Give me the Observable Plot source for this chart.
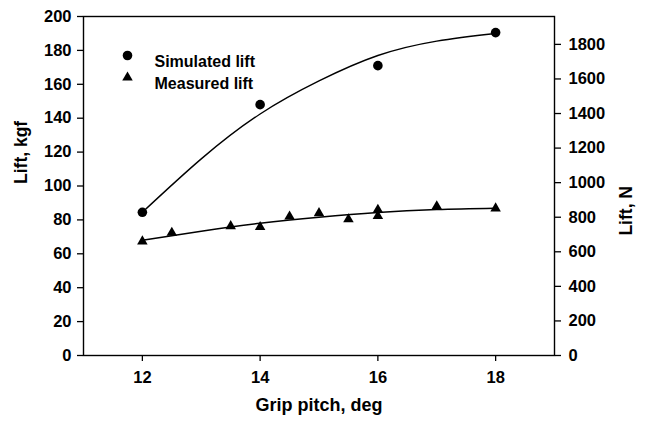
<!DOCTYPE html>
<html>
<head>
<meta charset="utf-8">
<script src="https://cdn.jsdelivr.net/npm/d3@7"></script>
<script src="https://cdn.jsdelivr.net/npm/@observablehq/plot@0.6"></script>
<style>
  html, body { margin: 0; padding: 0; background: #fff; }
  #chart svg { display: block; }
</style>
</head>
<body>
<div id="chart"></div>
<script>
// Simulated lift (kgf)
const simPitch = [12, 14, 16, 18];
const simLift = [84.5, 148, 171, 190.5];
// Measured lift (kgf)
const measPitch = [12, 12.5, 13.5, 14, 14.5, 15, 15.5, 16, 16, 17, 18];
const measLift = [67.3, 72.4, 76.3, 75.8, 82, 84, 80.4, 86, 82.3, 88, 86.8];
// Fitted curves
const fitPitch = [12, 13, 14, 15, 16, 17, 18];
const simFit = [84.5, 116, 142.5, 162, 177, 185.5, 190];
const measFit = [68, 73.3, 78, 81.6, 84.4, 86.1, 86.9];
// Axis ticks
const xTicks = [12, 14, 16, 18];
const yTicksKgf = [0, 20, 40, 60, 80, 100, 120, 140, 160, 180, 200];
const yTicksN = [0, 200, 400, 600, 800, 1000, 1200, 1400, 1600, 1800];
const KGF_TO_N = 9.80665;
const legendLabels = ["Simulated lift", "Measured lift"];
const legendSymbols = ["circle", "triangle"];

const sim = simPitch.map((x, i) => ({x, y: simLift[i]}));
const meas = measPitch.map((x, i) => ({x, y: measLift[i]}));
const simCurve = fitPitch.map((x, i) => ({x, y: simFit[i]}));
const measCurve = fitPitch.map((x, i) => ({x, y: measFit[i]}));
const legend = legendLabels.map((label, i) => ({label, symbol: legendSymbols[i], i}));

const font = "'Liberation Sans', Arial, sans-serif";
const tickFont = 16.5;

const chart = Plot.plot({
  width: 647,
  height: 423,
  marginLeft: 83,
  marginRight: 93,
  marginTop: 16,
  marginBottom: 68,
  style: {fontFamily: font, fontSize: "16px", fontWeight: "bold", color: "#000", background: "#fff"},
  x: {domain: [11, 19]},
  y: {domain: [0, 200]},
  marks: [
    Plot.frame({stroke: "#000", strokeWidth: 1.4}),
    Plot.axisX({ticks: xTicks, tickSize: 6, tickPadding: 10, label: null, fontSize: tickFont, fontWeight: "bold", strokeWidth: 1.3}),
    Plot.axisY({anchor: "left", ticks: yTicksKgf, tickSize: 6, tickPadding: 6, label: null, fontSize: tickFont, fontWeight: "bold", strokeWidth: 1.3}),
    Plot.axisY({anchor: "right", ticks: yTicksN.map(n => n / KGF_TO_N), tickFormat: v => String(Math.round(v * KGF_TO_N)), tickSize: 6, tickPadding: 8, label: null, fontSize: tickFont, fontWeight: "bold", strokeWidth: 1.3}),
    Plot.line(simCurve, {x: "x", y: "y", curve: "natural", stroke: "#000", strokeWidth: 1.4}),
    Plot.line(measCurve, {x: "x", y: "y", curve: "natural", stroke: "#000", strokeWidth: 1.4}),
    Plot.dot(sim, {x: "x", y: "y", r: 4.8, fill: "#000", symbol: "circle"}),
    Plot.dot(meas, {x: "x", y: "y", r: 3.9, fill: "#000", symbol: "triangle"}),
    // legend
    Plot.dot(legend.filter(d => d.i === 0), {frameAnchor: "top-left", dx: 44, dy: 39, symbol: "circle", r: 4.8, fill: "#000"}),
    Plot.dot(legend.filter(d => d.i === 1), {frameAnchor: "top-left", dx: 44, dy: 61, symbol: "triangle", r: 3.9, fill: "#000"}),
    Plot.text(legend.filter(d => d.i === 0), {frameAnchor: "top-left", dx: 71, dy: 39, text: "label", textAnchor: "start", fontSize: 16, fontWeight: "bold", fill: "#000"}),
    Plot.text(legend.filter(d => d.i === 1), {frameAnchor: "top-left", dx: 71, dy: 61, text: "label", textAnchor: "start", fontSize: 16, fontWeight: "bold", fill: "#000"}),
    // axis titles
    Plot.text(["Lift, kgf"], {frameAnchor: "left", dx: -62, dy: -2, rotate: -90, fontSize: 17.5, fontWeight: "bold", fill: "#000"}),
    Plot.text(["Lift, N"], {frameAnchor: "right", dx: 72, rotate: -90, fontSize: 17.5, fontWeight: "bold", fill: "#000"}),
    Plot.text(["Grip pitch, deg"], {frameAnchor: "bottom", dy: 55, fontSize: 18, fontWeight: "bold", fill: "#000"})
  ]
});
document.getElementById("chart").appendChild(chart);
</script>
</body>
</html>
